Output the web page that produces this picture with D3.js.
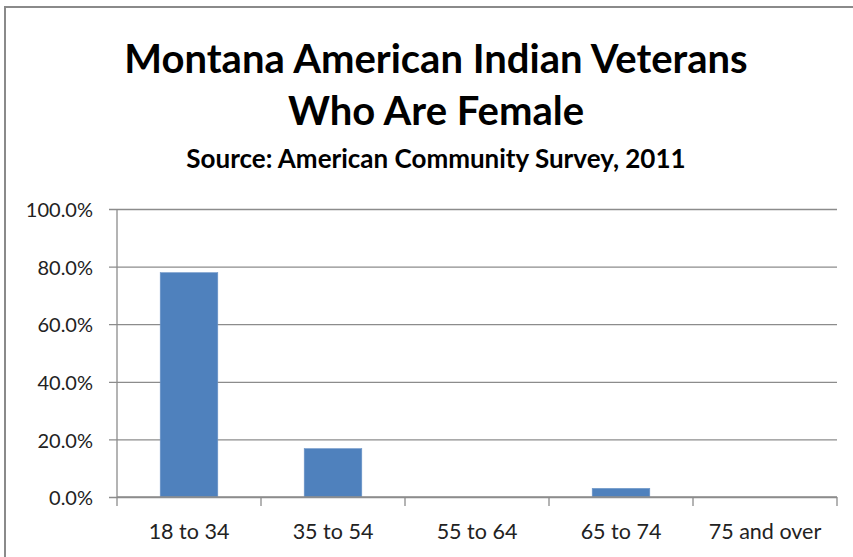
<!DOCTYPE html>
<html>
<head>
<meta charset="utf-8">
<script src="https://cdn.jsdelivr.net/npm/d3@7"></script>
<style>
  html, body { margin: 0; padding: 0; background: #fff; }
  svg { display: block; }
  text { font-family: Lato, "Open Sans", sans-serif; }
</style>
</head>
<body>
<script>
// Share of Montana American Indian veterans who are female, by age group
const categories = ["18 to 34", "35 to 54", "55 to 64", "65 to 74", "75 and over"];
const values = [0.779, 0.168, 0, 0.030, 0];
const yTicks = [0, 0.2, 0.4, 0.6, 0.8, 1.0];
const titleLines = ["Montana American Indian Veterans", "Who Are Female"];
const subtitle = "Source: American Community Survey, 2011";

const W = 853, H = 557;
const margin = { left: 117, right: 16, top: 209, bottom: 60 };

const svg = d3.select("body").append("svg")
  .attr("width", W).attr("height", H);

// chart frame
svg.append("rect")
  .attr("x", 5).attr("y", 7)
  .attr("width", W + 10).attr("height", H + 10)
  .attr("fill", "#fff")
  .attr("stroke", "#8a8a8a").attr("stroke-width", 2);

// titles
svg.append("text")
  .attr("x", 436).attr("y", 73)
  .attr("text-anchor", "middle")
  .attr("font-size", 40).attr("font-weight", "bold")
  .attr("fill", "#000")
  .text(titleLines[0]);
svg.append("text")
  .attr("x", 436).attr("y", 125)
  .attr("text-anchor", "middle")
  .attr("font-size", 40).attr("font-weight", "bold")
  .attr("fill", "#000")
  .text(titleLines[1]);
svg.append("text")
  .attr("x", 436).attr("y", 168)
  .attr("text-anchor", "middle")
  .attr("font-size", 26).attr("font-weight", "bold")
  .attr("fill", "#000")
  .text(subtitle);

const x = d3.scaleBand()
  .domain(categories)
  .range([margin.left, W - margin.right])
  .paddingInner(0.6).paddingOuter(0.3);

const xBounds = d3.scaleBand()
  .domain(categories)
  .range([margin.left, W - margin.right]);

const y = d3.scaleLinear()
  .domain([0, 1])
  .range([H - margin.bottom, margin.top]);

// horizontal gridlines with outward ticks
const yAxis = d3.axisLeft(y)
  .tickValues(yTicks)
  .tickFormat(d3.format(".1%"))
  .tickSize(-(W - margin.right - margin.left))
  .tickPadding(24);

const gy = svg.append("g")
  .attr("transform", `translate(${margin.left},0)`)
  .call(yAxis);
gy.select(".domain").remove();
gy.selectAll(".tick line")
  .attr("x1", -8)
  .attr("stroke", "#8c8c8c").attr("stroke-width", 1.3);
gy.selectAll(".tick text")
  .attr("font-size", 20)
  .attr("dy", "0.38em")
  .attr("fill", "#222")
  .attr("font-family", "Lato, sans-serif");

// vertical axis line
svg.append("line")
  .attr("x1", margin.left).attr("x2", margin.left)
  .attr("y1", y(1)).attr("y2", y(0))
  .attr("stroke", "#8c8c8c").attr("stroke-width", 1.3);

// bars
svg.append("g").selectAll("rect")
  .data(values)
  .join("rect")
  .attr("x", (d, i) => x(categories[i]))
  .attr("width", x.bandwidth())
  .attr("y", d => y(d))
  .attr("height", d => y(0) - y(d))
  .attr("fill", "#4f81bd")
  .attr("stroke", "#6f96c8").attr("stroke-width", 0.6);

// x axis baseline and category dividers
svg.append("line")
  .attr("x1", margin.left).attr("x2", W - margin.right)
  .attr("y1", y(0)).attr("y2", y(0))
  .attr("stroke", "#8c8c8c").attr("stroke-width", 1.3);

const bounds = categories.map(c => xBounds(c)).concat([W - margin.right]);
svg.append("g").selectAll("line")
  .data(bounds)
  .join("line")
  .attr("x1", d => d).attr("x2", d => d)
  .attr("y1", y(0)).attr("y2", y(0) + 9)
  .attr("stroke", "#8c8c8c").attr("stroke-width", 1.3);

svg.append("g").selectAll("text")
  .data(categories)
  .join("text")
  .attr("x", d => xBounds(d) + xBounds.bandwidth() / 2)
  .attr("y", y(0) + 42)
  .attr("text-anchor", "middle")
  .attr("font-size", 21.5)
  .attr("fill", "#222")
  .text(d => d);
</script>
</body>
</html>
